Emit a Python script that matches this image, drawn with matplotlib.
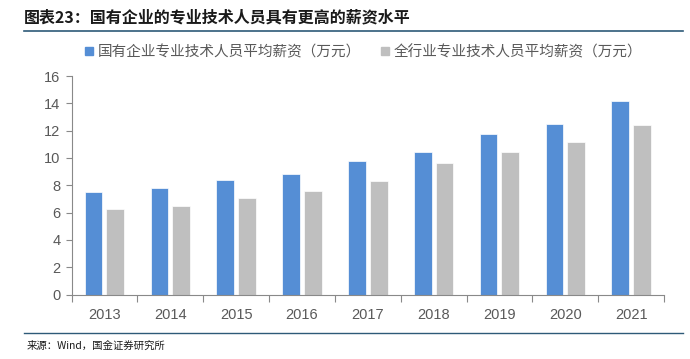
import numpy as np
import matplotlib.pyplot as plt
from matplotlib.lines import Line2D

plt.rcParams['font.family'] = ['Noto Sans CJK SC', 'DejaVu Sans']

years = ['2013', '2014', '2015', '2016', '2017', '2018', '2019', '2020', '2021']
soe = [7.47, 7.83, 8.35, 8.8, 9.78, 10.47, 11.72, 12.52, 14.18]
all_ind = [6.23, 6.5, 7.03, 7.58, 8.28, 9.62, 10.47, 11.17, 12.42]
title = '图表23：国有企业的专业技术人员具有更高的薪资水平'
legend_labels = ['国有企业专业技术人员平均薪资（万元）', '全行业专业技术人员平均薪资（万元）']
source = '来源：Wind，国金证券研究所'

blue = '#558ED5'
gray = '#BFBFBF'
axis_c = '#898989'
text_c = '#595959'

fig = plt.figure(figsize=(6.9, 3.59), dpi=100)
ax = fig.add_axes([71.5/690, 1 - 294.5/359, (664-71.5)/690, (294.5-76)/359])

x = np.arange(len(years))
w = 0.27
ax.bar(x - 0.165, soe, width=w, color=blue, edgecolor='white', linewidth=0.5)
ax.bar(x + 0.165, all_ind, width=w, color=gray, edgecolor='white', linewidth=0.5)

ax.set_xlim(-0.5, len(years) - 0.5)
ax.set_ylim(0, 16)
ax.set_yticks(np.arange(0, 17, 2))
ax.set_xticks(x)
ax.set_xticklabels(years, fontfamily='Liberation Sans')
ax.set_yticklabels([str(v) for v in range(0, 17, 2)], fontfamily='Liberation Sans')
ax.set_xticks(np.arange(-0.5, len(years), 1), minor=True)
ax.tick_params(axis='x', which='major', length=0, pad=10, labelsize=10.5, labelcolor=text_c)
ax.tick_params(axis='x', which='minor', length=5, color=axis_c, width=0.8)
ax.tick_params(axis='y', length=4, color=axis_c, width=0.8, labelsize=10.5, labelcolor=text_c, pad=4)
for s in ['top', 'right']:
    ax.spines[s].set_visible(False)
for s in ['left', 'bottom']:
    ax.spines[s].set_color(axis_c)
    ax.spines[s].set_linewidth(0.8)

# title and rules
fig.text(24/690, 1 - 17/359, title, fontsize=11.5, fontweight='bold', fontstyle='italic',
         color='#1a1a1a', va='center', ha='left')
fig.add_artist(Line2D([24/690, 683/690], [1 - 31/359, 1 - 31/359], color='#2E5A78', linewidth=1.2))
fig.add_artist(Line2D([24/690, 683/690], [1 - 333/359, 1 - 333/359], color='#2E5A78', linewidth=1.0))
fig.text(27/690, 1 - 346/359, source, fontsize=7.5, color='#1a1a1a', va='center', ha='left')

# legend
h1 = Line2D([], [], marker='s', linestyle='none', color=blue, markersize=6)
h2 = Line2D([], [], marker='s', linestyle='none', color=gray, markersize=6)
fig.legend([h1, h2], legend_labels, loc='center', bbox_to_anchor=(362/690, 1 - 52/359), ncol=2,
           frameon=False, fontsize=10.5, labelcolor=text_c, handletextpad=0.1, columnspacing=1.2,
           handlelength=1.0)

fig.savefig('out.png', dpi=100)
